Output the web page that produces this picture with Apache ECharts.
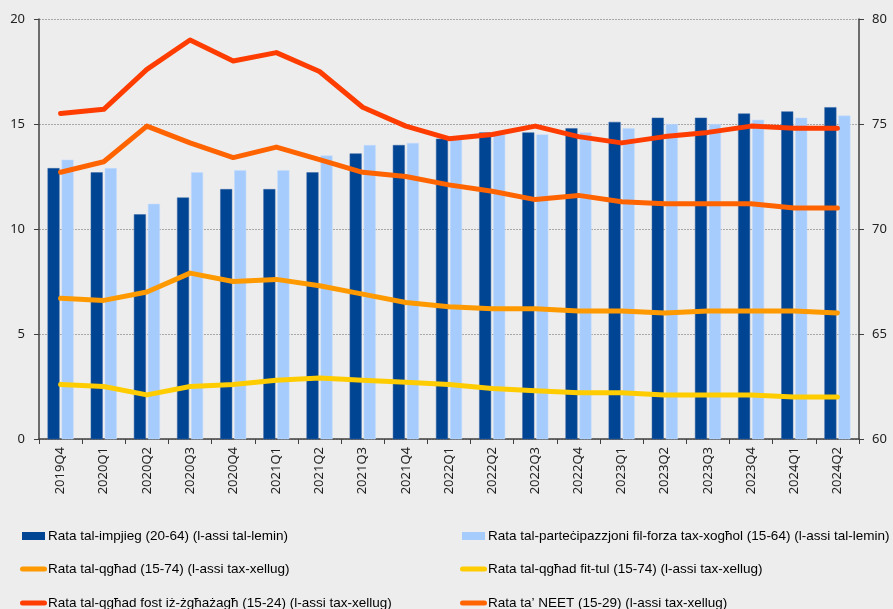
<!DOCTYPE html>
<html lang="mt">
<head>
    <meta charset="UTF-8">
    <title>Rati tas-suq tax-xogħol</title>
    <script src="https://cdn.jsdelivr.net/npm/echarts@6/dist/echarts.min.js"></script>
    <style>
        html, body { margin: 0; padding: 0; background: #ededed; }
    </style>
</head>
<body>
    <div id="main" style="width: 893px; height: 609px;"></div>

    <script>
        var quarters = ['2019Q4', '2020Q1', '2020Q2', '2020Q3', '2020Q4', '2021Q1', '2021Q2', '2021Q3', '2021Q4',
            '2022Q1', '2022Q2', '2022Q3', '2022Q4', '2023Q1', '2023Q2', '2023Q3', '2023Q4', '2024Q1', '2024Q2'];

        // l-assi tal-lemin (60-80)
        var impjieg = [72.9, 72.7, 70.7, 71.5, 71.9, 71.9, 72.7, 73.6, 74.0, 74.3, 74.6, 74.6, 74.8, 75.1, 75.3, 75.3, 75.5, 75.6, 75.8];
        var partecipazzjoni = [73.3, 72.9, 71.2, 72.7, 72.8, 72.8, 73.5, 74.0, 74.1, 74.3, 74.5, 74.5, 74.6, 74.8, 75.0, 75.0, 75.2, 75.3, 75.4];

        // l-assi tax-xellug (0-20)
        var qghad = [6.7, 6.6, 7.0, 7.9, 7.5, 7.6, 7.3, 6.9, 6.5, 6.3, 6.2, 6.2, 6.1, 6.1, 6.0, 6.1, 6.1, 6.1, 6.0];
        var qghadFitTul = [2.6, 2.5, 2.1, 2.5, 2.6, 2.8, 2.9, 2.8, 2.7, 2.6, 2.4, 2.3, 2.2, 2.2, 2.1, 2.1, 2.1, 2.0, 2.0];
        var qghadZghazagh = [15.5, 15.7, 17.6, 19.0, 18.0, 18.4, 17.5, 15.8, 14.9, 14.3, 14.5, 14.9, 14.4, 14.1, 14.4, 14.6, 14.9, 14.8, 14.8];
        var neet = [12.7, 13.2, 14.9, 14.1, 13.4, 13.9, 13.3, 12.7, 12.5, 12.1, 11.8, 11.4, 11.6, 11.3, 11.2, 11.2, 11.2, 11.0, 11.0];

        var names = [
            'Rata tal-impjieg (20-64) (l-assi tal-lemin)',
            'Rata tal-parteċipazzjoni fil-forza tax-xogħol (15-64) (l-assi tal-lemin)',
            'Rata tal-qgħad (15-74) (l-assi tax-xellug)',
            'Rata tal-qgħad fit-tul (15-74) (l-assi tax-xellug)',
            'Rata tal-qgħad fost iż-żgħażagħ (15-24) (l-assi tax-xellug)',
            'Rata ta’ NEET (15-29) (l-assi tax-xellug)'
        ];

        var colors = ['#004494', '#a6ccfd', '#ff9900', '#ffcc00', '#ff3d00', '#ff6400'];

        var axisFont = 'Noto Sans, Liberation Sans, sans-serif';
        var legendFont = 'Liberation Sans, sans-serif';

        var chart = echarts.init(document.getElementById('main'));

        function lineSeries(i, data) {
            return {
                name: names[i],
                type: 'line',
                yAxisIndex: 0,
                data: data,
                symbol: 'none',
                z: 5,
                lineStyle: { color: colors[i], width: 5, cap: 'round', join: 'round' },
                itemStyle: { color: colors[i] }
            };
        }

        // one legend per item so the two columns line up like the original
        var pillIcon = 'path://M2.5,0 H24.5 A2.5,2.5 0 0 1 24.5,5 H2.5 A2.5,2.5 0 0 1 2.5,0 Z';
        function legendItem(i, left, top, isBar) {
            return {
                left: left,
                top: top,
                padding: 0,
                selectedMode: false,
                itemWidth: isBar ? 23 : 27,
                itemHeight: isBar ? 8 : 5,
                data: [{
                    name: names[i],
                    icon: isBar ? 'rect' : pillIcon,
                    itemStyle: { color: colors[i], borderWidth: 0 }
                }],
                textStyle: {
                    fontFamily: legendFont, fontSize: 13.5, color: '#000',
                    padding: [0, 0, 0, isBar ? -2 : -4]
                }
            };
        }

        var option = {
            backgroundColor: '#ededed',
            animation: false,
            grid: { left: 39, right: 34, top: 19, bottom: 170 },
            legend: [
                legendItem(0, 22, 529, true),
                legendItem(1, 462, 529, true),
                legendItem(2, 20, 562, false),
                legendItem(3, 460, 562, false),
                legendItem(4, 20, 596, false),
                legendItem(5, 460, 596, false)
            ],
            xAxis: {
                type: 'category',
                data: quarters,
                axisLine: { lineStyle: { color: '#404040', width: 1.5 } },
                axisTick: { show: true, length: 5, lineStyle: { color: '#404040' } },
                axisLabel: { rotate: 90, fontFamily: axisFont, fontSize: 13, color: '#222', margin: 8 }
            },
            yAxis: [
                {
                    type: 'value',
                    min: 0, max: 20, interval: 5,
                    position: 'left',
                    axisLine: { show: true, lineStyle: { color: '#404040', width: 1.5 } },
                    axisTick: { show: true, length: 5, lineStyle: { color: '#404040' } },
                    axisLabel: { fontFamily: axisFont, fontSize: 13, color: '#222', margin: 14 },
                    splitLine: { lineStyle: { color: '#a8a8a8', type: [2, 1], width: 1 } }
                },
                {
                    type: 'value',
                    min: 60, max: 80, interval: 5,
                    position: 'right',
                    axisLine: { show: true, lineStyle: { color: '#404040', width: 1.5 } },
                    axisTick: { show: true, length: 5, lineStyle: { color: '#404040' } },
                    axisLabel: { fontFamily: axisFont, fontSize: 13, color: '#222', margin: 13 },
                    splitLine: { show: false }
                }
            ],
            series: [
                {
                    name: names[0],
                    type: 'bar',
                    yAxisIndex: 1,
                    data: impjieg,
                    barWidth: 12,
                    barGap: '17%',
                    itemStyle: { color: colors[0], borderColor: '#3a68a6', borderWidth: 0.5 }
                },
                {
                    name: names[1],
                    type: 'bar',
                    yAxisIndex: 1,
                    data: partecipazzjoni,
                    barWidth: 12,
                    itemStyle: { color: colors[1], borderColor: '#c4ddfc', borderWidth: 0.5 }
                },
                lineSeries(2, qghad),
                lineSeries(3, qghadFitTul),
                lineSeries(4, qghadZghazagh),
                lineSeries(5, neet)
            ]
        };

        chart.setOption(option);
    </script>
</body>
</html>
